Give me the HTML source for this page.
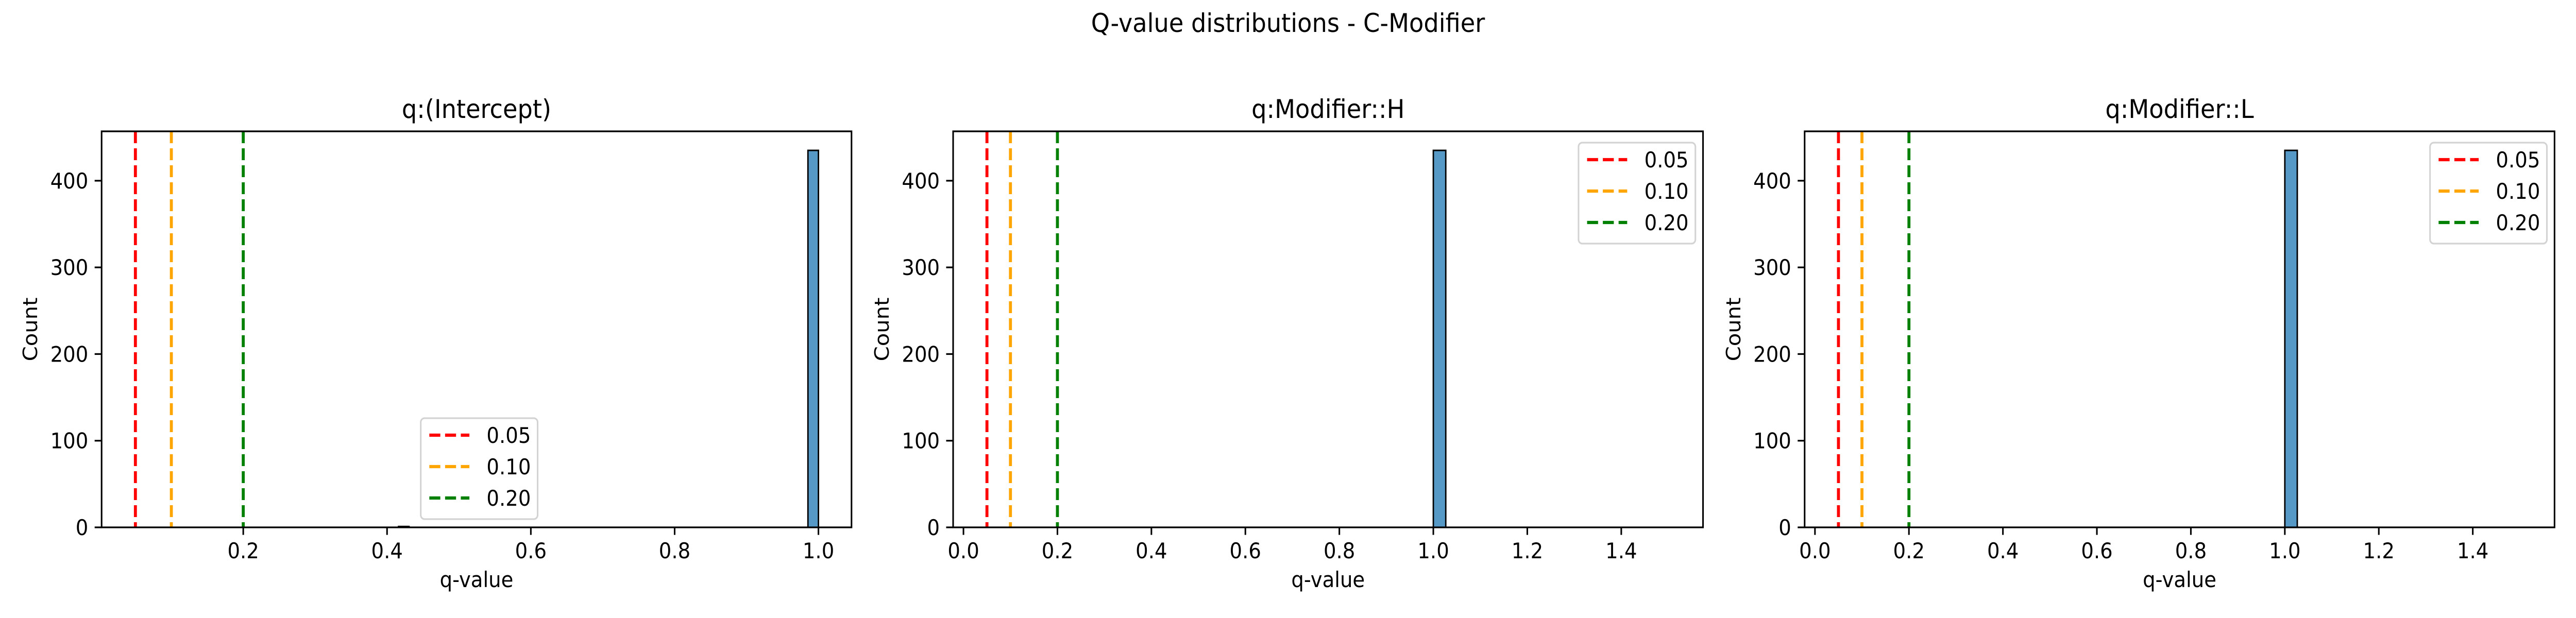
<!DOCTYPE html>
<html><head><meta charset="utf-8"><style>
html,body{margin:0;padding:0;background:#fff;overflow:hidden;width:100%;height:100%;}
svg{display:block;width:100vw;height:100vh;}
svg text{font-family:"DejaVu Sans","Liberation Sans",sans-serif;fill:#000;}
</style></head><body>
<svg id="fig" viewBox="0 0 5400 1200" preserveAspectRatio="none" xmlns="http://www.w3.org/2000/svg">
<rect width="5400" height="1200" fill="#fff"/>
<text x="2700" y="62" font-size="50" text-anchor="middle">Q-value distributions - C-Modifier</text>
</svg>
<script>
const panelTitles = ["q:(Intercept)", "q:Modifier::H", "q:Modifier::L"];
const binEdgesLeft = [[0.416, 0.9854], [1.0], [1.0]];
const binCounts = [[1, 435], [435], [435]];
const binWidths = [0.0146, 0.0265, 0.0265];
const thresholds = [0.05, 0.10, 0.20];
const thresholdLabels = ["0.05", "0.10", "0.20"];
const thresholdColors = ["#ff0000", "#ffa500", "#008000"];
const xTicks = [[0.2, 0.4, 0.6, 0.8, 1.0], [0.0, 0.2, 0.4, 0.6, 0.8, 1.0, 1.2, 1.4], [0.0, 0.2, 0.4, 0.6, 0.8, 1.0, 1.2, 1.4]];
const xDomains = [[0.003, 1.046], [-0.022, 1.574], [-0.022, 1.574]];
const yTicks = [0, 100, 200, 300, 400];
const yDomain = [0, 457];
const legendPos = ["bottom", "upper-right", "upper-right"];

const NS = "http://www.w3.org/2000/svg";
const svg = document.getElementById("fig");
function mk(tag, attrs, parent) {
  const e = document.createElementNS(NS, tag);
  for (const k in attrs) e.setAttribute(k, attrs[k]);
  (parent || svg).appendChild(e);
  return e;
}
const lefts = [213, 1998, 3783];
const W = 1572, axTop = 255, axBottom = 1024;
panelTitles.forEach((t, p) => {
  const L = lefts[p], R = L + W;
  const g = mk("g", {});
  
  
  const xs = v => L + (v - xDomains[p][0]) / (xDomains[p][1] - xDomains[p][0]) * W;
  const ys = v => axBottom - (v - yDomain[0]) / (yDomain[1] - yDomain[0]) * (axBottom - axTop);
  binEdgesLeft[p].forEach((e, i) => {
    const x0 = xs(e), x1 = xs(e + binWidths[p]);
    const r = mk("rect", {x: x0, y: ys(binCounts[p][i]), width: x1 - x0, height: ys(0) - ys(binCounts[p][i]), fill: "#5799c6", stroke: "#000", "stroke-width": 3}, g);
    
    
  });
  thresholds.forEach((v, i) => {
    const l = mk("line", {x1: xs(v), x2: xs(v), y1: axTop, y2: axBottom, stroke: thresholdColors[i], "stroke-width": 6.25, "stroke-dasharray": "23 10"}, g);
    
    
  });
  const fr = mk("rect", {x: L, y: axTop, width: W, height: axBottom - axTop, fill: "none", stroke: "#000", "stroke-width": 3.3}, g);
  
  
  xTicks[p].forEach(v => {
    const x = xs(v);
    mk("line", {x1: x, x2: x, y1: axBottom, y2: axBottom + 14.6, stroke: "#000", "stroke-width": 3.3}, g);
    const tx = mk("text", {x: x, y: axBottom + 60, "font-size": 41.7, "text-anchor": "middle"}, g);
    tx.textContent = v.toFixed(1);
    
    
  });
  yTicks.forEach(v => {
    const y = ys(v);
    mk("line", {x1: L - 14.6, x2: L, y1: y, y2: y, stroke: "#000", "stroke-width": 3.3}, g);
    const tx = mk("text", {x: L - 28, y: y + 15, "font-size": 41.7, "text-anchor": "end"}, g);
    tx.textContent = v;
    
    
  });
  const ti = mk("text", {x: L + W / 2, y: 229, "font-size": 50, "text-anchor": "middle"}, g);
  ti.textContent = t;
  
  
  const xl = mk("text", {x: L + W / 2, y: 1140, "font-size": 41.7, "text-anchor": "middle"}, g);
  xl.textContent = "q-value";
  
  
  const yl = mk("text", {x: 0, y: 0, "font-size": 41.7, "text-anchor": "middle", transform: "translate(" + (L - 135) + "," + ((axTop + axBottom) / 2) + ") rotate(-90)"}, g);
  yl.textContent = "Count";
  
  
  const bx = legendPos[p] === "bottom" ? 882 : R - 261, by = legendPos[p] === "bottom" ? 812 : 277;
  const lg = mk("g", {}, g);
  
  
  mk("rect", {x: bx, y: by, width: 245, height: 196, rx: 8, fill: "#fff", "fill-opacity": 0.8, stroke: "#d3d3d3", "stroke-width": 3.3}, lg);
  thresholdLabels.forEach((lab, i) => {
    const ry = by + 33 + i * 61;
    const ent = mk("g", {}, lg);
    
    
    mk("line", {x1: bx + 18, x2: bx + 102, y1: ry, y2: ry, stroke: thresholdColors[i], "stroke-width": 6.25, "stroke-dasharray": "23 10"}, ent);
    const tx = mk("text", {x: bx + 138, y: ry + 15, "font-size": 41.7}, ent);
    tx.textContent = lab;
  });
});
</script>
</body></html>
